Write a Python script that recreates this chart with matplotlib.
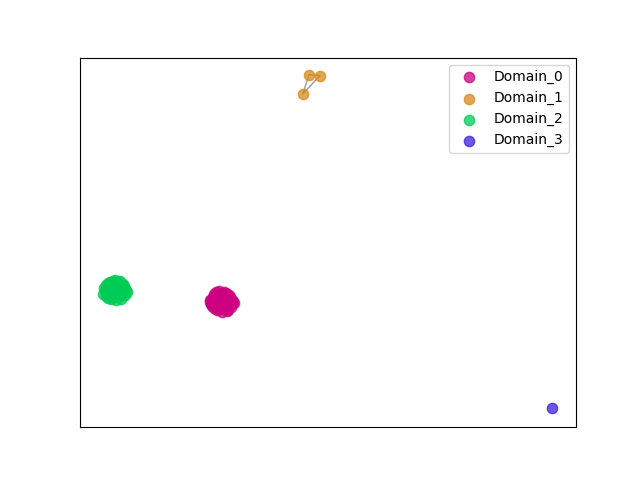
import matplotlib
matplotlib.use("Agg")
import matplotlib.pyplot as plt

# embedding coordinates (arbitrary units)
d0_x = [210, 214, 219, 224, 229, 233, 212, 217, 222, 227, 231, 215, 220, 225, 229, 218, 223, 210, 232, 221,
        213, 216, 226, 230, 211, 234, 219, 224, 214, 228, 222, 217, 231, 212, 226, 220]
d0_y = [180, 186, 189, 188, 185, 179, 174, 170, 168, 169, 173, 179, 181, 178, 180, 175, 174, 178, 176, 183,
        183, 188, 187, 183, 176, 177, 171, 171, 172, 170, 186, 184, 181, 181, 174, 177]
d1_x = [303, 309, 320]
d1_y = [386, 405, 404]
d2_x = [104, 108, 113, 118, 123, 126, 106, 111, 116, 121, 125, 109, 114, 119, 112, 117, 103, 124,
        106, 110, 115, 120, 124, 107, 113, 119, 122, 105, 127, 116, 110, 121, 108, 118]
d2_y = [192, 197, 199, 198, 196, 190, 184, 181, 180, 181, 185, 190, 192, 189, 186, 186, 186, 193,
        195, 198, 200, 199, 194, 188, 183, 183, 188, 189, 188, 195, 193, 192, 182, 185]
d3_x = [552]
d3_y = [72]
edges_d1 = [(0, 1), (0, 2), (1, 2)]

labels = ["Domain_0", "Domain_1", "Domain_2", "Domain_3"]
colors = ["#cc0080", "#d98a1c", "#00cc55", "#3f1fdd"]

fig, ax = plt.subplots(figsize=(6.4, 4.8), dpi=100)
for i, j in edges_d1:
    ax.plot([d1_x[i], d1_x[j]], [d1_y[i], d1_y[j]], color="gray", alpha=0.8, lw=1, zorder=1)
for xs, ys, lab, c in zip([d0_x, d1_x, d2_x, d3_x], [d0_y, d1_y, d2_y, d3_y], labels, colors):
    ax.scatter(xs, ys, s=55, color=c, alpha=0.75, label=lab, zorder=2)
ax.set_xlim(80, 576)
ax.set_ylim(53, 422)
ax.set_xticks([])
ax.set_yticks([])
ax.legend(loc="upper right")
fig.savefig("out.png", dpi=100)
